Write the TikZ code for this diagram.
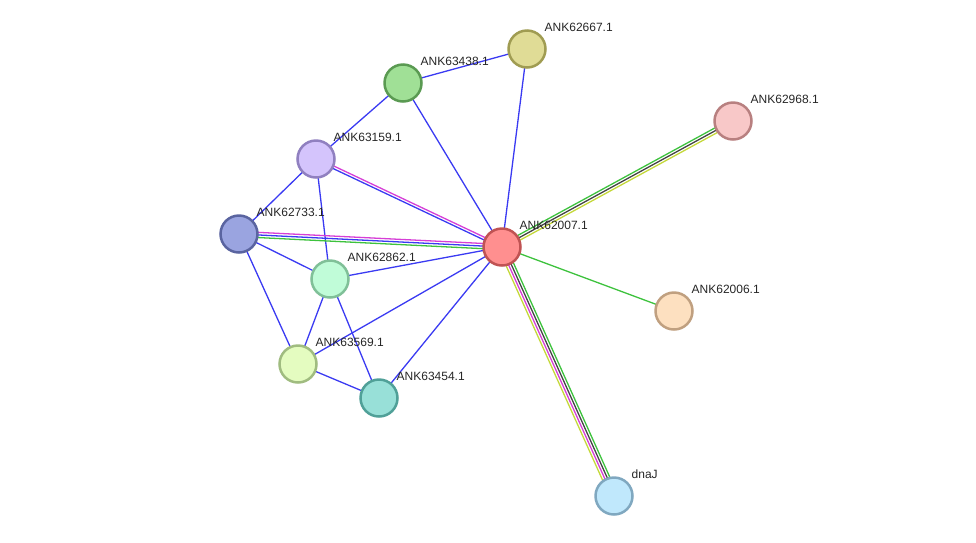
\documentclass[tikz,border=0pt]{standalone}
\usepackage{fontspec}
\setmainfont{Liberation Sans}
\usepackage{tikz}
\usetikzlibrary{calc}
\pgfdeclarelayer{bg}
\pgfsetlayers{bg,main}

\definecolor{edgeblue}{HTML}{3A3AF2}
\definecolor{edgemag}{HTML}{D63ED6}
\definecolor{edgegreen}{HTML}{3DC23D}
\definecolor{edgegray}{HTML}{444444}
\definecolor{edgeyellow}{HTML}{C4D83A}
% node fills / borders
\definecolor{fA}{HTML}{FF8F8F}\definecolor{bA}{HTML}{C05353}
\definecolor{fB}{HTML}{E0DC96}\definecolor{bB}{HTML}{A09C52}
\definecolor{fC}{HTML}{A0E096}\definecolor{bC}{HTML}{5A9A52}
\definecolor{fD}{HTML}{F8C8C8}\definecolor{bD}{HTML}{B88080}
\definecolor{fE}{HTML}{D4C4FC}\definecolor{bE}{HTML}{9080C0}
\definecolor{fF}{HTML}{9AA4E0}\definecolor{bF}{HTML}{5A64A0}
\definecolor{fG}{HTML}{C0FCD8}\definecolor{bG}{HTML}{80C098}
\definecolor{fH}{HTML}{FDE0C0}\definecolor{bH}{HTML}{C0A080}
\definecolor{fI}{HTML}{E4FCC0}\definecolor{bI}{HTML}{A0BC80}
\definecolor{fJ}{HTML}{98E0D8}\definecolor{bJ}{HTML}{50A098}
\definecolor{fK}{HTML}{C0E8FC}\definecolor{bK}{HTML}{80A8C0}

\tikzset{
    prot/.style={draw=b#1, fill=f#1, circle, line width=2.5pt, minimum size=37pt, inner sep=0pt},
    lbl/.style={font=\fontsize{12}{14}\selectfont, inner sep=0pt, label distance=5pt, text=black!85},
    edge/.style={line width=1.3pt}
}

\begin{document}
\begin{tikzpicture}[x=1pt, y=-1pt]
    \useasboundingbox (0,0) rectangle (976,542);

    % Nodes
    \node[prot=A, label={[lbl]45:ANK62007.1}] (N62007) at (502,247) {};
    \node[prot=B, label={[lbl]45:ANK62667.1}] (N62667) at (527,49) {};
    \node[prot=C, label={[lbl]45:ANK63438.1}] (N63438) at (403,83) {};
    \node[prot=D, label={[lbl]45:ANK62968.1}] (N62968) at (733,121) {};
    \node[prot=E, label={[lbl]45:ANK63159.1}] (N63159) at (316,159) {};
    \node[prot=F, label={[lbl]45:ANK62733.1}] (N62733) at (239,234) {};
    \node[prot=G, label={[lbl]45:ANK62862.1}] (N62862) at (330,279) {};
    \node[prot=H, label={[lbl]45:ANK62006.1}] (N62006) at (674,311) {};
    \node[prot=I, label={[lbl]45:ANK63569.1}] (N63569) at (298,364) {};
    \node[prot=J, label={[lbl]45:ANK63454.1}] (N63454) at (379,398) {};
    \node[prot=K, label={[lbl]45:dnaJ}] (NdnaJ) at (614,496) {};

    % Edges
    \begin{pgfonlayer}{bg}
        \foreach \a/\b in {N63438/N62667, N62667/N62007, N63438/N62007, N63438/N63159,
                           N63159/N62733, N63159/N62862, N62733/N62862, N62733/N63569,
                           N62862/N62007, N62862/N63569, N62862/N63454, N63569/N62007,
                           N63569/N63454, N63454/N62007}
            \draw[edge, edgeblue] (\a.center) -- (\b.center);
        \draw[edge, edgegreen] (N62007.center) -- (N62006.center);
        \foreach \off/\col in {1.3/edgemag, -1.3/edgeblue}
            \draw[edge, \col] ($(N63159.center)!\off pt!90:(N62007.center)$) -- ($(N62007.center)!\off pt!-90:(N63159.center)$);
        \foreach \off/\col in {2.6/edgemag, 0/edgeblue, -2.6/edgegreen}
            \draw[edge, \col] ($(N62733.center)!\off pt!90:(N62007.center)$) -- ($(N62007.center)!\off pt!-90:(N62733.center)$);
        \foreach \off/\col in {2.6/edgegreen, 0/edgegray, -2.6/edgeyellow}
            \draw[edge, \col] ($(N62007.center)!\off pt!90:(N62968.center)$) -- ($(N62968.center)!\off pt!-90:(N62007.center)$);
        \foreach \off/\col in {3.9/edgegreen, 1.3/edgegray, -1.3/edgemag, -3.9/edgeyellow}
            \draw[edge, \col] ($(N62007.center)!\off pt!90:(NdnaJ.center)$) -- ($(NdnaJ.center)!\off pt!-90:(N62007.center)$);
    \end{pgfonlayer}
\end{tikzpicture}
\end{document}
